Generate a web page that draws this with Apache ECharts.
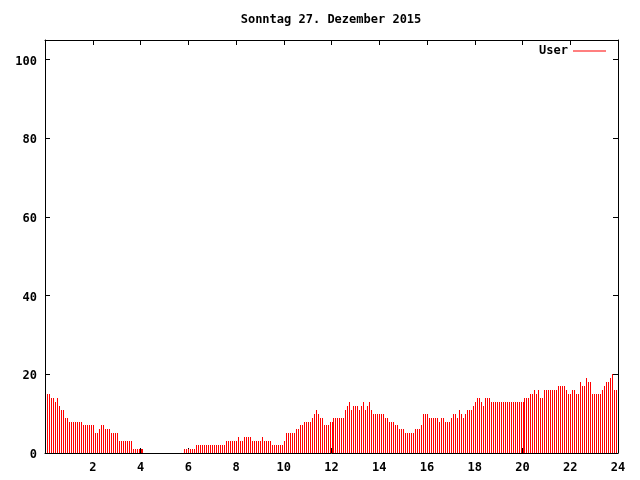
<!DOCTYPE html>
<html><head><meta charset="utf-8">
<script src="https://cdn.jsdelivr.net/npm/echarts@6/dist/echarts.min.js"></script>
<style>html,body{margin:0;padding:0;background:#fff}#c{width:640px;height:480px}</style>
</head><body><div id="c"></div>
<script>
const titleText = 'Sonntag 27. Dezember 2015';
const seriesName = 'User';
const firstMinute = 5;
const stepMinutes = 5;
const values = [
15,15,14,14,13,14,12,11,11,9,9,8,8,8,8,8,8,8,7,7,7,7,7,7,5,5,6,7,7,6,6,6,5,5,5,5,3,3,3,3,3,3,3,1,1,1,1,1,1,
0,0,0,0,0,0,0,0,0,0,0,0,0,0,0,0,0,0,0,0,
1,1,1,1,1,1,
2,2,2,2,2,2,2,2,2,2,2,2,2,2,2,
3,3,3,3,3,3,4,3,3,4,4,4,4,3,3,3,3,3,4,3,3,3,3,2,2,2,2,2,2,3,
5,5,5,5,5,6,6,7,7,8,8,8,8,9,10,11,10,9,9,7,7,7,8,8,
9,9,9,9,9,9,
11,12,13,11,12,12,12,11,12,13,11,12,13,11,
10,10,10,10,10,10,9,9,8,8,8,7,7,6,6,6,5,5,5,5,5,6,6,6,7,
10,10,10,9,9,9,9,9,8,9,9,8,8,8,9,10,10,9,11,10,9,10,11,11,11,12,13,14,14,13,12,
14,14,14,
13,13,13,13,13,13,13,13,13,13,13,13,13,13,13,13,13,
14,14,14,
15,15,16,15,16,14,14,16,16,16,16,16,16,16,17,17,17,17,16,15,15,16,16,15,15,18,17,17,19,18,18,15,15,15,15,15,16,17,18,18,19,20,16,16
];
const xTicks = [0,2,4,6,8,10,12,14,16,18,20,22,24];
const xLabels = [2,4,6,8,10,12,14,16,18,20,22,24];
const yTicks = [0,20,40,60,80,100];

const font = 'DejaVu Sans Mono';
const points = values.map((v, i) => [(firstMinute + i * stepMinutes) / 60, v]);

const chart = echarts.init(document.getElementById('c'), null, {renderer: 'canvas'});
const axisCommon = {
  axisLine: {show: true, onZero: false, lineStyle: {color: '#000', width: 1}},
  splitLine: {show: false}
};
chart.setOption({
  animation: false,
  backgroundColor: '#fff',
  title: {
    text: titleText, left: 331, top: 14, textAlign: 'center', padding: 0,
    textStyle: {fontFamily: font, fontSize: 12, fontWeight: 'bold', color: '#000'}
  },
  legend: {
    data: [seriesName], right: 34, top: 45, align: 'right', padding: 0,
    icon: 'rect', itemWidth: 33, itemHeight: 1,
    itemStyle: {color: '#ff0000'},
    textStyle: {fontFamily: font, fontSize: 12, fontWeight: 'bold', color: '#000'}
  },
  grid: {left: 45, top: 40, right: 22, bottom: 27, containLabel: false},
  xAxis: [
    Object.assign({}, axisCommon, {
      type: 'value', min: 0, max: 24, interval: 2, position: 'bottom',
      axisTick: {show: true, inside: true, length: 5, lineStyle: {color: '#000'}, customValues: xTicks},
      axisLabel: {show: true, margin: 9, customValues: xLabels, color: '#000', fontFamily: font, fontSize: 12, fontWeight: 'bold'}
    }),
    Object.assign({}, axisCommon, {
      type: 'value', min: 0, max: 24, interval: 2, position: 'top',
      axisTick: {show: true, inside: true, length: 5, lineStyle: {color: '#000'}, customValues: xTicks},
      axisLabel: {show: false}
    })
  ],
  yAxis: [
    Object.assign({}, axisCommon, {
      type: 'value', min: 0, max: 105, interval: 20, position: 'left',
      axisTick: {show: true, inside: true, length: 5, lineStyle: {color: '#000'}, customValues: yTicks},
      axisLabel: {show: true, margin: 8, verticalAlign: 'top', lineHeight: 4, customValues: yTicks, color: '#000', fontFamily: font, fontSize: 12, fontWeight: 'bold'}
    }),
    Object.assign({}, axisCommon, {
      type: 'value', min: 0, max: 105, interval: 20, position: 'right',
      axisTick: {show: true, inside: true, length: 5, lineStyle: {color: '#000'}, customValues: yTicks},
      axisLabel: {show: false}
    })
  ],
  series: [{
    name: seriesName, type: 'custom', xAxisIndex: 0, yAxisIndex: 0,
    data: points, silent: true, itemStyle: {color: '#ff0000'},
    encode: {x: 0, y: 1},
    renderItem: function (params, api) {
      const top = api.coord([api.value(0), api.value(1)]);
      const base = api.coord([api.value(0), 0]);
      const x = Math.round(top[0]);
      const y0 = Math.round(base[1]);
      const y1 = Math.round(top[1]);
      return {
        type: 'rect',
        shape: {x: x, y: y1, width: 1, height: y0 - y1},
        style: {fill: '#ff0000'}
      };
    }
  }]
});
</script></body></html>
